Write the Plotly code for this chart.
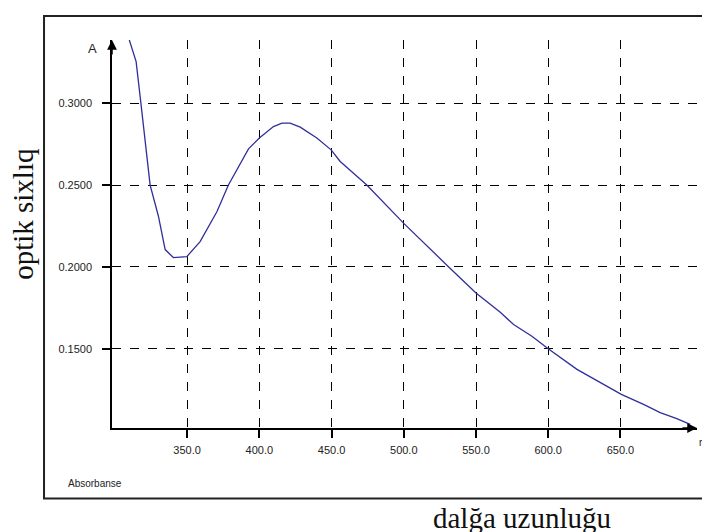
import plotly.graph_objects as go

# Data
wavelength_nm = [310, 314.7, 318, 324.4, 330.1, 334.8, 340.5, 349.8, 359, 370.6, 378.6, 384.4,
                 392.5, 400, 409.8, 415.6, 421.3, 428.3, 439.8, 449.7, 456, 474.4, 500, 531.1,
                 550, 566.8, 576, 588.7, 600, 619.9, 636, 650.6, 666, 677.5, 689, 698.3]
absorbance = [0.3386, 0.3254, 0.300, 0.250, 0.2311, 0.2106, 0.2057, 0.2063, 0.2154, 0.2337, 0.25,
              0.2593, 0.2721, 0.2787, 0.2857, 0.2878, 0.2878, 0.2854, 0.2787, 0.2715, 0.2644, 0.25,
              0.2266, 0.2, 0.1841, 0.1723, 0.1648, 0.1577, 0.15, 0.1374, 0.1293, 0.1221, 0.116,
              0.111, 0.1073, 0.1038]

x_ticks = [350, 400, 450, 500, 550, 600, 650]
x_tick_labels = ["350.0", "400.0", "450.0", "500.0", "550.0", "600.0", "650.0"]
y_ticks = [0.15, 0.20, 0.25, 0.30]
y_tick_labels = ["0.1500", "0.2000", "0.2500", "0.3000"]

x_title = "dalğa uzunluğu"
y_title = "optik sixlıq"

TICKFONT = dict(family="Liberation Sans, Arial, sans-serif", size=11, color="#222")
SERIF = dict(family="Liberation Serif, Times New Roman, serif", size=29, color="#111")

fig = go.Figure()
fig.add_trace(go.Scatter(
    x=wavelength_nm, y=absorbance, mode="lines",
    line=dict(color="#2f2f9c", width=1.3),
    hoverinfo="skip", showlegend=False,
))

# The page has an 8px body margin, so the figure is 8px smaller than the window
fig.update_layout(
    width=702, height=524,
    margin=dict(l=104, r=13, t=32, b=103.5),
    paper_bgcolor="white", plot_bgcolor="white",
    xaxis=dict(
        range=[298, 703], tickvals=x_ticks, ticktext=x_tick_labels,
        showgrid=True, gridcolor="#000", griddash="dash", gridwidth=1,
        showline=True, linecolor="#000", linewidth=1.5,
        ticks="outside", ticklen=8, tickcolor="#000", tickwidth=1.5,
        tickfont=TICKFONT, zeroline=False, ticklabelstandoff=3,
    ),
    yaxis=dict(
        range=[0.1016, 0.3386], tickvals=y_ticks, ticktext=y_tick_labels,
        showgrid=True, gridcolor="#000", griddash="dash", gridwidth=1,
        showline=True, linecolor="#000", linewidth=1.5,
        ticks="outside", ticklen=8, tickcolor="#000", tickwidth=1.5,
        tickfont=TICKFONT, zeroline=False, ticklabelstandoff=8,
    ),
    shapes=[dict(type="rect", xref="paper", yref="paper",
                 x0=-0.1162, x1=1.05, y0=-0.1815, y1=1.0618,
                 line=dict(color="#222", width=2), layer="below")],
    annotations=[
        # axis arrows
        dict(x=0, y=1, xref="paper", yref="paper", ax=0, ay=16, text="",
             showarrow=True, arrowhead=2, arrowsize=1.3, arrowwidth=1.5, arrowcolor="#000"),
        dict(x=1, y=0, xref="paper", yref="paper", ax=-16, ay=0, text="",
             showarrow=True, arrowhead=2, arrowsize=1.3, arrowwidth=1.5, arrowcolor="#000"),
        dict(x=-0.0325, y=0.979, xref="paper", yref="paper", text="A", showarrow=False,
             xanchor="center", yanchor="middle",
             font=dict(family=TICKFONT["family"], size=13, color="#222")),
        dict(x=1.0, y=-0.037, xref="paper", yref="paper", text="nm", showarrow=False,
             xanchor="left", yanchor="middle",
             font=dict(family=TICKFONT["family"], size=10, color="#222")),
        dict(x=-0.0786, y=-0.1429, xref="paper", yref="paper", text="Absorbanse",
             showarrow=False, xanchor="left", yanchor="middle",
             font=dict(family=TICKFONT["family"], size=10, color="#222")),
        dict(x=0.7017, y=-0.232, xref="paper", yref="paper", text=x_title, showarrow=False,
             xanchor="center", yanchor="middle", font=SERIF),
        dict(x=-0.152, y=0.5495, xref="paper", yref="paper", text=y_title, showarrow=False,
             textangle=-90, xanchor="center", yanchor="middle", font=SERIF),
    ],
)

fig.write_html("out.html")
